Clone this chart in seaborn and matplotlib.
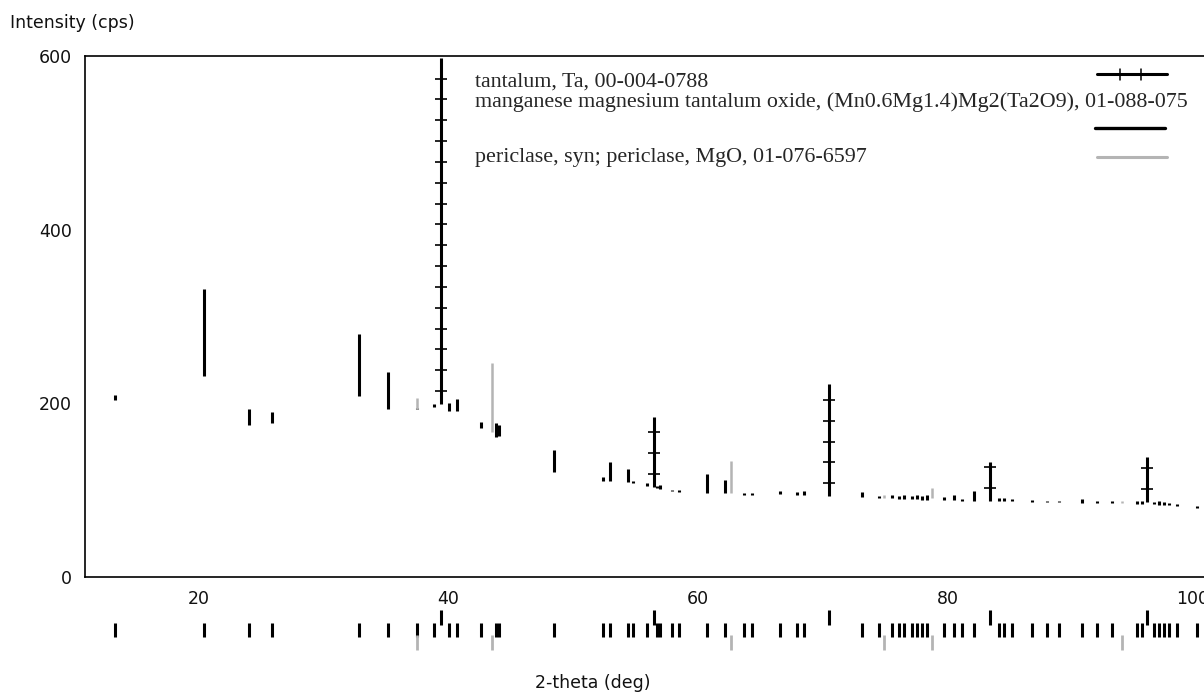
import numpy as np
import pandas as pd
import matplotlib
matplotlib.use("Agg")
import matplotlib.pyplot as plt
from matplotlib.lines import Line2D
import seaborn as sns

# ---------------- data ----------------
# manganese magnesium tantalum oxide reflections: 2-theta, background level, peak top (cps)
mn_pos = [12.45, 19.55, 23.2, 25.0, 32.0, 34.3, 36.6, 38.0, 39.2, 39.8, 41.7, 42.9, 43.15,
          47.6, 51.5, 52.05, 53.5, 53.9, 55.0, 55.8, 56.1, 57.0, 57.6, 59.85, 61.25, 62.8, 63.4,
          65.7, 67.0, 67.6, 72.2, 73.6, 74.6, 75.2, 75.6, 76.2, 76.6, 77.0, 77.4, 78.8, 79.6,
          80.2, 81.2, 83.2, 83.6, 84.2, 85.8, 87.0, 88.0, 89.8, 91.0, 92.2, 94.2, 94.6, 95.6,
          96.0, 96.4, 96.8, 97.4, 99.0]
mn_base = [204, 231, 175, 177, 208, 193, 193, 196, 191, 191, 172, 161, 162,
           121, 110, 111, 109, 108, 105, 103, 101, 99, 98, 97, 97, 95, 95,
           96, 94, 94, 92, 91, 91, 90, 90, 90, 90, 89, 89, 89, 89,
           88, 88, 87, 87, 87, 86, 86, 86, 85, 85, 85, 84, 84, 84,
           83, 83, 83, 82, 80]
mn_top = [210, 332, 194, 190, 280, 236, 195, 199, 200, 205, 178, 177, 175,
          146, 115, 133, 124, 110, 108, 105, 106, 100, 100, 119, 112, 97, 97,
          99, 98, 99, 98, 93, 94, 93, 94, 93, 94, 93, 94, 92, 95,
          90, 99, 91, 91, 90, 89, 88, 88, 90, 88, 87, 88, 87, 86,
          87, 86, 85, 84, 82]

# tantalum reflections
ta_pos = [38.55, 55.55, 69.6, 82.45, 95.05]
ta_base = [199, 104, 93, 88, 86]
ta_top = [598, 184, 222, 132, 138]

# periclase reflections
mg_pos = [36.6, 42.6, 61.73, 74.0, 77.8, 93.0]
mg_base = [193, 167, 97, 91, 91, 85]
mg_top = [206, 247, 134, 95, 102, 88]

x_ticks = [20, 40, 60, 80, 100]
y_ticks = [0, 200, 400, 600]

legend_labels = ["tantalum, Ta, 00-004-0788",
                 "manganese magnesium tantalum oxide, (Mn0.6Mg1.4)Mg2(Ta2O9), 01-088-075",
                 "periclase, syn; periclase, MgO, 01-076-6597"]

# ---------------- figure ----------------
sns.set_style("white")
plt.rcParams["font.family"] = ["DejaVu Sans"]

W, H = 1204, 693
fig = plt.figure(figsize=(W / 100, H / 100), dpi=100)
fig.patch.set_facecolor("white")

def fx(px):
    return px / W

def fy(py):
    return (H - py) / H

ax_l, ax_r, ax_t, ax_b = 84.5, 1209, 56, 577
ax = fig.add_axes([fx(ax_l), fy(ax_b), fx(ax_r - ax_l), (ax_b - ax_t) / H])
ax.set_xlim(10, 100)
ax.set_ylim(0, 600)

BLACK = "#000000"
GREY = "#b4b4b4"

# manganese phase sticks
ax.vlines(mn_pos, mn_base, mn_top, colors=BLACK, linewidth=2.2, zorder=3)
# periclase sticks
ax.vlines(mg_pos, mg_base, mg_top, colors=GREY, linewidth=1.8, zorder=4)
# tantalum sticks with cross marks
ax.vlines(ta_pos, ta_base, ta_top, colors=BLACK, linewidth=2.2, zorder=5)
cx, cy = [], []
for p, b, t in zip(ta_pos, ta_base, ta_top):
    v = b + 15
    while v < t - 4:
        cx.append(p)
        cy.append(v)
        v += 24
cross_df = pd.DataFrame({"x": cx, "y": cy})
sns.scatterplot(data=cross_df, x="x", y="y", marker="_", s=80, color=BLACK,
                linewidth=1.2, ax=ax, zorder=6, legend=False)

ax.set_xticks(x_ticks)
ax.set_yticks(y_ticks)
ax.set_xticklabels([str(v) for v in x_ticks], ha="right")
ax.set_xlabel("")
ax.set_ylabel("")
ax.tick_params(axis="both", direction="out", length=3, width=1, color=BLACK,
               labelsize=12.5, labelcolor="#111111")
ax.tick_params(axis="y", pad=6)
ax.tick_params(axis="x", pad=6)
for s in ["left", "bottom", "top"]:
    ax.spines[s].set_visible(True)
    ax.spines[s].set_color(BLACK)
    ax.spines[s].set_linewidth(1.2)
ax.spines["right"].set_visible(False)
ax.set_facecolor("white")

# ---------------- reference stick row below the axis ----------------
row_top, row_bot = 605, 655
ax2 = fig.add_axes([fx(ax_l), fy(row_bot), fx(ax_r - ax_l), (row_bot - row_top) / H])
ax2.set_xlim(10, 100)
ax2.set_ylim(0, 1)
ax2.axis("off")
ax2.vlines(mn_pos, 0.36, 0.64, colors=BLACK, linewidth=2.2)
ax2.vlines(ta_pos, 0.60, 0.90, colors=BLACK, linewidth=2.2)
ax2.vlines(mg_pos, 0.10, 0.40, colors=GREY, linewidth=2.0)

# ---------------- axis titles ----------------
fig.text(fx(10), fy(23), "Intensity (cps)", ha="left", va="center", fontsize=12.5, color="#111111")
fig.text(fx(593), fy(683), "2-theta (deg)", ha="center", va="center", fontsize=12.5, color="#111111")

# ---------------- legend ----------------
serif = ["Liberation Serif", "DejaVu Serif"]
fig.text(fx(475), fy(87), legend_labels[0], ha="left", va="baseline", family=serif, fontsize=15.8)
fig.text(fx(475), fy(107), legend_labels[1], ha="left", va="baseline", family=serif, fontsize=15.8)
fig.text(fx(475), fy(162), legend_labels[2], ha="left", va="baseline", family=serif, fontsize=15.8)

fig.add_artist(Line2D([fx(1097), fx(1167)], [fy(74), fy(74)], color=BLACK, linewidth=2.2,
                      transform=fig.transFigure))
for cxp in (1120, 1141):
    fig.add_artist(Line2D([fx(cxp), fx(cxp)], [fy(68.5), fy(79.5)], color=BLACK, linewidth=1.1,
                          transform=fig.transFigure))
fig.add_artist(Line2D([fx(1095), fx(1165)], [fy(128), fy(128)], color=BLACK, linewidth=2.4,
                      transform=fig.transFigure))
fig.add_artist(Line2D([fx(1097), fx(1167)], [fy(157), fy(157)], color=GREY, linewidth=2.2,
                      transform=fig.transFigure))

fig.savefig("out.png", dpi=100, facecolor="white")
